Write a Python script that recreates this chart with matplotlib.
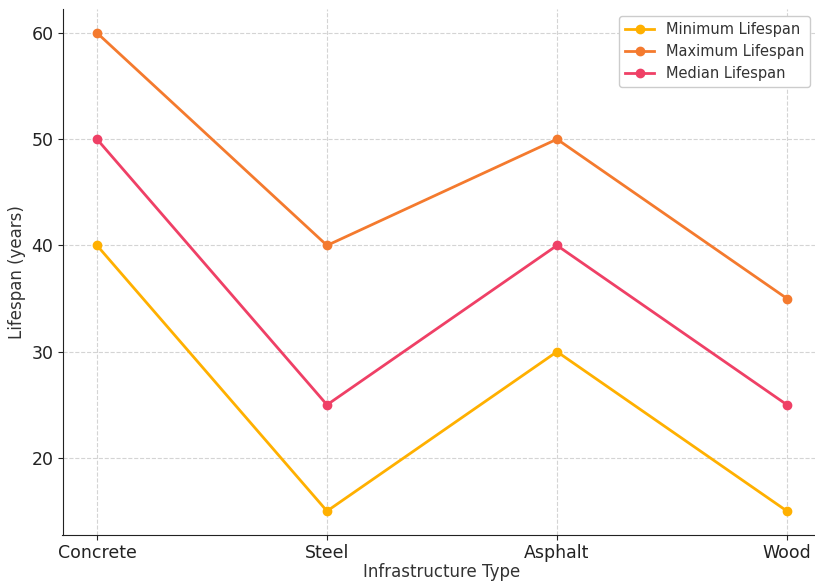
import matplotlib
matplotlib.use("Agg")
import matplotlib.pyplot as plt

# Lifespan ranges by infrastructure material
infrastructure = ["Concrete", "Steel", "Asphalt", "Wood"]
min_lifespan = [40, 15, 30, 15]
max_lifespan = [60, 40, 50, 35]
median_lifespan = [50, 25, 40, 25]

fig = plt.figure(figsize=(8.15, 5.83), dpi=100)
ax = fig.add_axes([62.5 / 815, 48 / 583, 759 / 815, 526 / 583])

ax.plot(infrastructure, min_lifespan, marker="o", color="#FFB000", label="Minimum Lifespan",
        linewidth=2, markersize=6)
ax.plot(infrastructure, max_lifespan, marker="o", color="#F47A2E", label="Maximum Lifespan",
        linewidth=2, markersize=6)
ax.plot(infrastructure, median_lifespan, marker="o", color="#EF4066", label="Median Lifespan",
        linewidth=2, markersize=6)

ax.set_xlabel("Infrastructure Type", fontsize=12, color="#333333", labelpad=1)
ax.set_ylabel("Lifespan (years)", fontsize=12, color="#333333", labelpad=4)
ax.tick_params(axis="both", labelsize=12.5, colors="#222222", pad=3)
ax.grid(True, linestyle="--", color="#d4d4d4", linewidth=0.8)
ax.spines["top"].set_visible(False)
ax.spines["right"].set_visible(False)
for s in ("left", "bottom"):
    ax.spines[s].set_color("#222222")

leg = ax.legend(loc="upper right", bbox_to_anchor=(752 / 759, 0.995), fontsize=10.5,
                framealpha=1, edgecolor="#cccccc", borderaxespad=0.3)
for t in leg.get_texts():
    t.set_color("#333333")

fig.savefig("out.png", dpi=100)
